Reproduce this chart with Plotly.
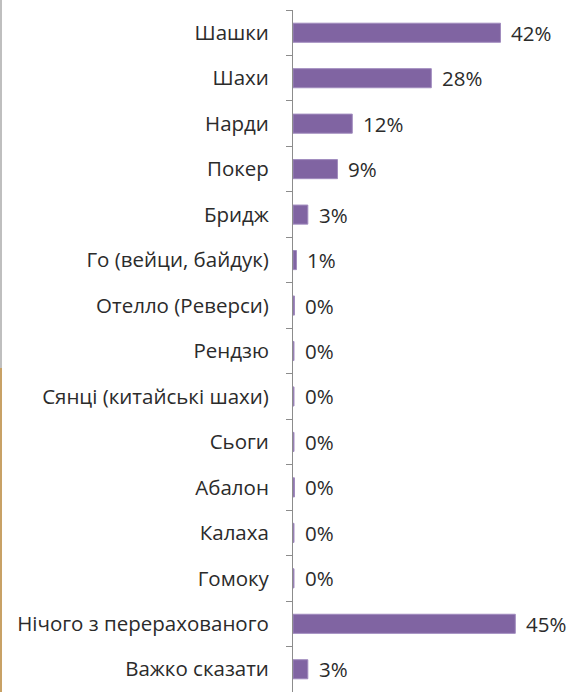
import plotly.graph_objects as go

categories = ["Шашки", "Шахи", "Нарди", "Покер", "Бридж", "Го (вейци, байдук)",
              "Отелло (Реверси)", "Рендзю", "Сянці (китайські шахи)", "Сьоги",
              "Абалон", "Калаха", "Гомоку", "Нічого з перерахованого", "Важко сказати"]
values = [42, 28, 12, 9, 3, 0.7, 0.3, 0.2, 0.2, 0.2, 0.3, 0.2, 0.2, 45, 3]
labels = ["42%", "28%", "12%", "9%", "3%", "1%", "0%", "0%", "0%", "0%", "0%", "0%", "0%", "45%", "3%"]

W, H = 570, 692
ML, MR, MT, MB = 293, 30, 10, 0
FONT = "Open Sans"
FS = 20.5
TXT = "#2b2b2b"

fig = go.Figure(go.Bar(
    x=values, y=categories, orientation="h",
    marker=dict(color="#8064A2", line=dict(color="#A08BBE", width=1)),
    width=0.42, hoverinfo="skip",
))

for c, v, t in zip(categories, values, labels):
    fig.add_annotation(x=v, y=c, text=t, showarrow=False, xanchor="left",
                       xshift=9, font=dict(family=FONT, size=FS, color=TXT))

pw = W - ML - MR
fig.add_shape(type="line", xref="paper", yref="paper", x0=-(ML - 1) / pw, x1=-(ML - 1) / pw,
              y0=1 + MT / (H - MT - MB), y1=1 - 358 / (H - MT - MB),
              line=dict(color="#BFBFBF", width=2))
fig.add_shape(type="line", xref="paper", yref="paper", x0=-(ML - 1) / pw, x1=-(ML - 1) / pw,
              y0=1 - 358 / (H - MT - MB), y1=0,
              line=dict(color="#C8A165", width=2))

fig.update_layout(
    width=W, height=H, margin=dict(l=ML, r=MR, t=MT, b=MB, autoexpand=False),
    plot_bgcolor="white", paper_bgcolor="white", showlegend=False,
    font=dict(family=FONT, size=FS, color=TXT),
    xaxis=dict(range=[0, 50], visible=False, fixedrange=True, automargin=False),
    yaxis=dict(autorange="reversed", showline=True, linecolor="#8C8C8C", linewidth=1,
               ticks="outside", tickson="boundaries", ticklen=6, tickcolor="#8C8C8C",
               ticklabelstandoff=19, showgrid=False, automargin=False, fixedrange=True,
               tickfont=dict(family=FONT, size=FS, color=TXT)),
)

fig.write_html("out.html", config={"displayModeBar": False},
               post_script="document.body.style.margin='0';document.body.style.overflow='hidden';")
